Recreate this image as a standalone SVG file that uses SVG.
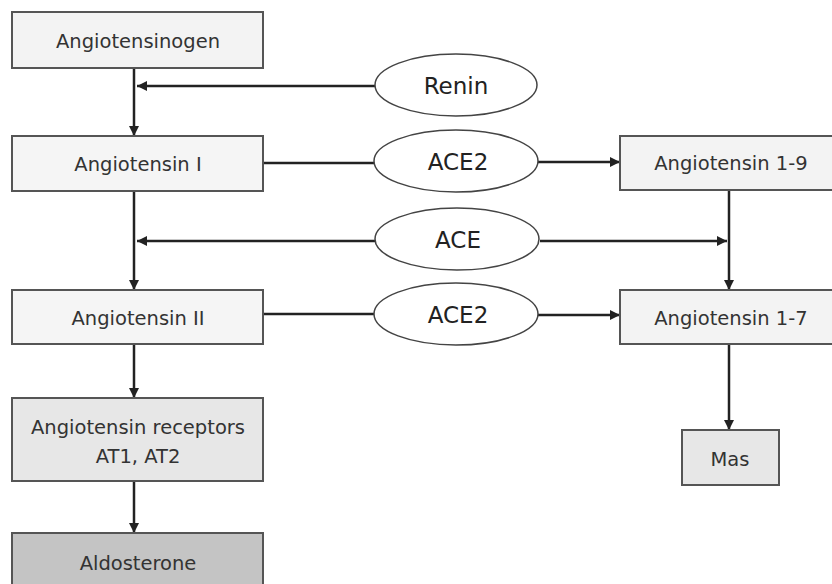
<svg xmlns="http://www.w3.org/2000/svg" width="832" height="584" viewBox="0 0 832 584">
<defs>
<marker id="ah" viewBox="0 0 10 10" refX="10" refY="5" markerWidth="10" markerHeight="10" markerUnits="userSpaceOnUse" orient="auto">
<path d="M0,0 L10,5 L0,10 z" fill="#222"/>
</marker>
<style>
.box{stroke:#555;stroke-width:2}
.ell{fill:#fff;stroke:#444;stroke-width:1.5}
.t{font-family:"DejaVu Sans","Liberation Sans",sans-serif;font-size:19.5px;fill:#333;text-anchor:middle;dominant-baseline:central}
.te{font-family:"DejaVu Sans","Liberation Sans",sans-serif;font-size:23px;fill:#222;text-anchor:middle;dominant-baseline:central}
.ln{stroke:#222;stroke-width:2.5;fill:none}
</style>
</defs>
<rect width="832" height="584" fill="#fff"/>
<g id="connectors">
<line class="ln" x1="134" y1="68" x2="134" y2="136" marker-end="url(#ah)"/>
<line class="ln" x1="375" y1="86" x2="137" y2="86" marker-end="url(#ah)"/>
<line class="ln" x1="263" y1="163" x2="375" y2="163"/>
<line class="ln" x1="538" y1="162" x2="620" y2="162" marker-end="url(#ah)"/>
<line class="ln" x1="134" y1="191" x2="134" y2="290" marker-end="url(#ah)"/>
<line class="ln" x1="375" y1="241" x2="137" y2="241" marker-end="url(#ah)"/>
<line class="ln" x1="540" y1="241" x2="727" y2="241" marker-end="url(#ah)"/>
<line class="ln" x1="729" y1="190" x2="729" y2="290" marker-end="url(#ah)"/>
<line class="ln" x1="263" y1="314" x2="375" y2="314"/>
<line class="ln" x1="538" y1="315" x2="620" y2="315" marker-end="url(#ah)"/>
<line class="ln" x1="729" y1="344" x2="729" y2="430" marker-end="url(#ah)"/>
<line class="ln" x1="134" y1="344" x2="134" y2="398" marker-end="url(#ah)"/>
<line class="ln" x1="134" y1="481" x2="134" y2="533" marker-end="url(#ah)"/>
</g>
<g id="angiotensinogen"><rect class="box" x="12" y="12" width="251" height="56" fill="#f3f3f3"/><text class="t" x="138" y="41">Angiotensinogen</text></g>
<g id="renin"><ellipse class="ell" cx="456" cy="85" rx="81" ry="31"/><text class="te" x="456" y="86">Renin</text></g>
<g id="angiotensin1"><rect class="box" x="12" y="136" width="251" height="55" fill="#f5f5f5"/><text class="t" x="138" y="164">Angiotensin I</text></g>
<g id="ace2a"><ellipse class="ell" cx="456" cy="161" rx="82" ry="31"/><text class="te" x="458" y="162">ACE2</text></g>
<g id="angiotensin19"><rect class="box" x="620" y="136" width="222" height="54" fill="#f3f3f3"/><text class="t" x="731" y="163">Angiotensin 1-9</text></g>
<g id="ace"><ellipse class="ell" cx="457" cy="239" rx="82" ry="31"/><text class="te" x="458" y="240">ACE</text></g>
<g id="angiotensin2"><rect class="box" x="12" y="290" width="251" height="54" fill="#f5f5f5"/><text class="t" x="138" y="318">Angiotensin II</text></g>
<g id="ace2b"><ellipse class="ell" cx="456" cy="314" rx="82" ry="31"/><text class="te" x="458" y="315">ACE2</text></g>
<g id="angiotensin17"><rect class="box" x="620" y="290" width="222" height="54" fill="#f3f3f3"/><text class="t" x="731" y="318">Angiotensin 1-7</text></g>
<g id="receptors"><rect class="box" x="12" y="398" width="251" height="83" fill="#e7e7e7"/><text class="t" x="138" y="427">Angiotensin receptors</text><text class="t" x="138" y="456">AT1, AT2</text></g>
<g id="mas"><rect class="box" x="682" y="430" width="97" height="55" fill="#e7e7e7"/><text class="t" x="730" y="459">Mas</text></g>
<g id="aldosterone"><rect class="box" x="12" y="533" width="251" height="60" fill="#c4c4c4"/><text class="t" x="138" y="563">Aldosterone</text></g>
</svg>
